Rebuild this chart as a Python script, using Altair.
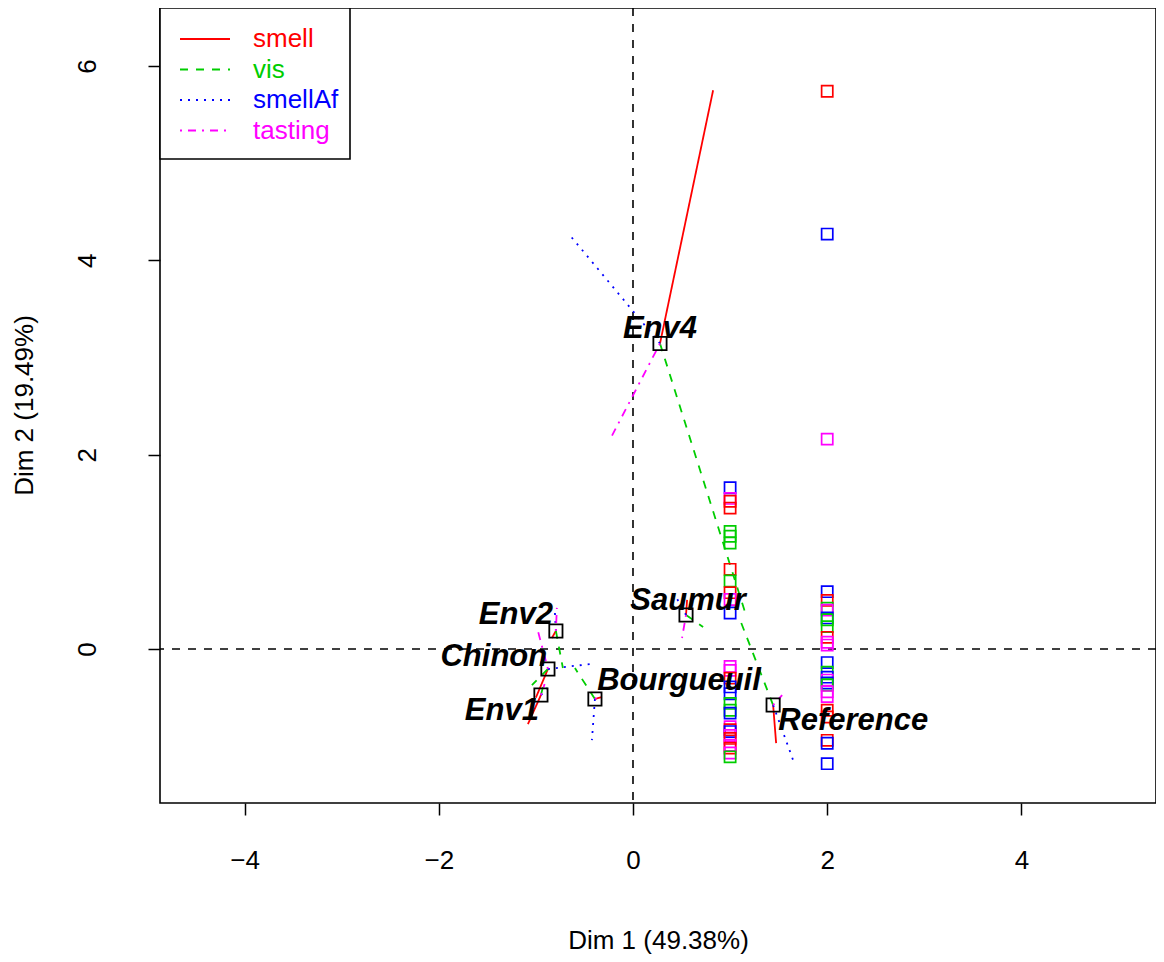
import altair as alt
import pandas as pd

# ---------------- data ----------------
ind_names = ["Env1", "Env2", "Env4", "Reference", "Saumur", "Bourgueuil", "Chinon"]
ind_x = [-0.948, -0.794, 0.278, 1.443, 0.546, -0.392, -0.876]
ind_y = [-0.474, 0.186, 3.144, -0.577, 0.350, -0.515, -0.206]

# label anchor positions (data units)
lab_x = [-1.35, -1.206, 0.278, 2.268, 0.567, 0.474, -1.433]
lab_y = [-0.64, 0.35, 3.29, -0.742, 0.495, -0.33, -0.082]

groups = ["smell", "vis", "smellAf", "tasting"]
group_colors = ["#FF0000", "#00CD00", "#0000FF", "#FF00FF"]
group_dashes = [[1, 0], [8, 8], [2, 6], [2, 6, 8, 6]]

smell_x = [-1.082, -0.835, 0.825, 1.474, 0.557, -0.320, -1.000]
smell_y = [-0.773, 0.113, 5.750, -0.969, 0.505, -0.495, -0.500]
vis_x = [-0.920, -0.722, 1.160, 1.110, 0.722, -0.598, -1.041]
vis_y = [-0.360, -0.196, 0.360, 0.280, 0.227, -0.196, -0.371]
smellAf_x = [-0.880, -0.804, -0.660, 1.649, 0.443, -0.423, -0.443]
smellAf_y = [-0.400, 0.371, 4.270, -1.144, 0.536, -0.938, -0.155]
tasting_x = [-0.910, -0.784, -0.216, 1.536, 0.505, -0.330, -0.990]
tasting_y = [-0.360, 0.423, 2.196, -0.474, 0.113, -0.450, 0.227]

# coloured squares in column x = 1
col1_group = ["smellAf", "tasting", "smell", "smell", "vis", "vis", "vis", "smell", "vis",
              "smell", "tasting", "smellAf",
              "tasting", "tasting", "smell", "smellAf", "smellAf", "vis", "vis", "smellAf",
              "tasting", "smell", "smellAf", "tasting", "smell", "tasting", "smell", "tasting", "vis"]
col1_y = [1.66, 1.55, 1.52, 1.45, 1.21, 1.16, 1.09, 0.82, 0.70, 0.58, 0.51, 0.37,
          -0.18, -0.22, -0.30, -0.39, -0.46, -0.56, -0.63, -0.66,
          -0.80, -0.83, -0.85, -0.89, -0.92, -0.99, -1.02, -1.07, -1.11]
# coloured squares in column x = 2
col2_group = ["smell", "smellAf", "tasting", "smellAf", "smell", "vis", "tasting", "smellAf", "vis",
              "vis", "smell", "tasting", "tasting", "smellAf", "vis", "smellAf", "tasting",
              "smellAf", "vis", "tasting", "tasting", "smell", "smell", "smell", "smellAf", "smellAf"]
col2_y = [5.74, 4.27, 2.16, 0.59, 0.50, 0.42, 0.40, 0.32, 0.30, 0.23, 0.12, 0.07, 0.04,
          -0.14, -0.24, -0.29, -0.32, -0.35, -0.37, -0.44, -0.49, -0.63, -0.70, -0.94, -0.97, -1.18]

# ---------------- tables ----------------
partials = {"smell": (smell_x, smell_y), "vis": (vis_x, vis_y),
            "smellAf": (smellAf_x, smellAf_y), "tasting": (tasting_x, tasting_y)}
rows = []
for g in groups:
    px, py = partials[g]
    for i, n in enumerate(ind_names):
        rows.append(dict(ind=n, group=g, x=ind_x[i], y=ind_y[i], x2=px[i], y2=py[i]))
seg_df = pd.DataFrame(rows)

ind_df = pd.DataFrame({"name": ind_names, "x": ind_x, "y": ind_y, "lx": lab_x, "ly": lab_y})
sq_df = pd.DataFrame({"x": [1] * len(col1_y) + [2] * len(col2_y),
                      "y": col1_y + col2_y,
                      "group": col1_group + col2_group})
zero_df = pd.DataFrame({"v": [0]})

FONT = "Liberation Sans"
xs = alt.Scale(domain=[-4.871, 5.386], nice=False, zero=False)
ys = alt.Scale(domain=[-1.585, 6.597], nice=False, zero=False)

xaxis = alt.Axis(values=[-4, -2, 0, 2, 4], title="Dim 1 (49.38%)", grid=False, domain=False,
                 tickColor="black", tickSize=12, tickWidth=1.5,
                 labelFont=FONT, labelFontSize=26, labelColor="black", labelPadding=32,
                 labelFlush=False, labelOverlap=False,
                 titleFont=FONT, titleFontSize=26, titleFontWeight="normal", titleColor="black",
                 titleY=137, titleBaseline="middle")
yaxis = alt.Axis(values=[0, 2, 4, 6], title="Dim 2 (19.49%)", grid=False, domain=False,
                 tickColor="black", tickSize=12, tickWidth=1.5,
                 labelFont=FONT, labelFontSize=26, labelColor="black", labelPadding=48,
                 labelAngle=270, labelAlign="center", labelBaseline="bottom",
                 labelFlush=False, labelOverlap=False,
                 titleFont=FONT, titleFontSize=26, titleFontWeight="normal", titleColor="black",
                 titleX=-136, titleY=397, titleAngle=270, titleAlign="center",
                 titleBaseline="middle")

def X(f):
    return alt.X(f, type="quantitative", scale=xs, axis=xaxis)

def Y(f):
    return alt.Y(f, type="quantitative", scale=ys, axis=yaxis)

color_enc = alt.Color("group:N", scale=alt.Scale(domain=groups, range=group_colors), legend=None)
dash_enc = alt.StrokeDash("group:N", scale=alt.Scale(domain=groups, range=group_dashes), legend=None)

vline = alt.Chart(zero_df).mark_rule(color="black", strokeDash=[8, 8], strokeWidth=1.6).encode(x=X("v"))
hline = alt.Chart(zero_df).mark_rule(color="black", strokeDash=[8, 8], strokeWidth=1.6).encode(y=Y("v"))

segs = alt.Chart(seg_df).mark_rule(strokeWidth=1.8).encode(
    x=X("x"), y=Y("y"), x2="x2", y2="y2", color=color_enc, strokeDash=dash_enc)

squares = alt.Chart(sq_df).mark_point(shape="square", filled=False, size=125, strokeWidth=1.7,
                                      opacity=1).encode(
    x=X("x"), y=Y("y"), color=color_enc)

inds = alt.Chart(ind_df).mark_point(shape="square", filled=False, size=175, strokeWidth=1.8,
                                    opacity=1, color="black").encode(x=X("x"), y=Y("y"))

labels = alt.Chart(ind_df).mark_text(font=FONT, fontSize=31, fontWeight="bold", fontStyle="italic",
                                     color="black", align="center", baseline="middle").encode(
    x=X("lx"), y=Y("ly"), text="name:N")

# manual legend box (top-left, like R's legend)
one = pd.DataFrame({"a": [0]})
legend_layers = [alt.Chart(one).mark_rect(fill="white", stroke="black", strokeWidth=1.6).encode(
    x=alt.value(0), x2=alt.value(190), y=alt.value(0), y2=alt.value(151))]
for i, g in enumerate(groups):
    yy = 31 + 30.5 * i
    legend_layers.append(alt.Chart(one).mark_rule(color=group_colors[i], strokeDash=group_dashes[i],
                                                  strokeWidth=1.8).encode(
        x=alt.value(20), x2=alt.value(70), y=alt.value(yy)))
    legend_layers.append(alt.Chart(one).mark_text(text=g, color=group_colors[i], font=FONT, fontSize=26,
                                                  align="left", baseline="middle").encode(
        x=alt.value(93), y=alt.value(yy)))

chart = alt.layer(vline, hline, segs, squares, inds, labels, *legend_layers).properties(
    width=996, height=795, autosize="none",
    padding={"left": 152, "top": 0, "right": 0, "bottom": 158},
).configure_view(stroke="black", strokeWidth=1.6)

chart.save("out.html", embed_options={"renderer": "svg", "actions": False})
